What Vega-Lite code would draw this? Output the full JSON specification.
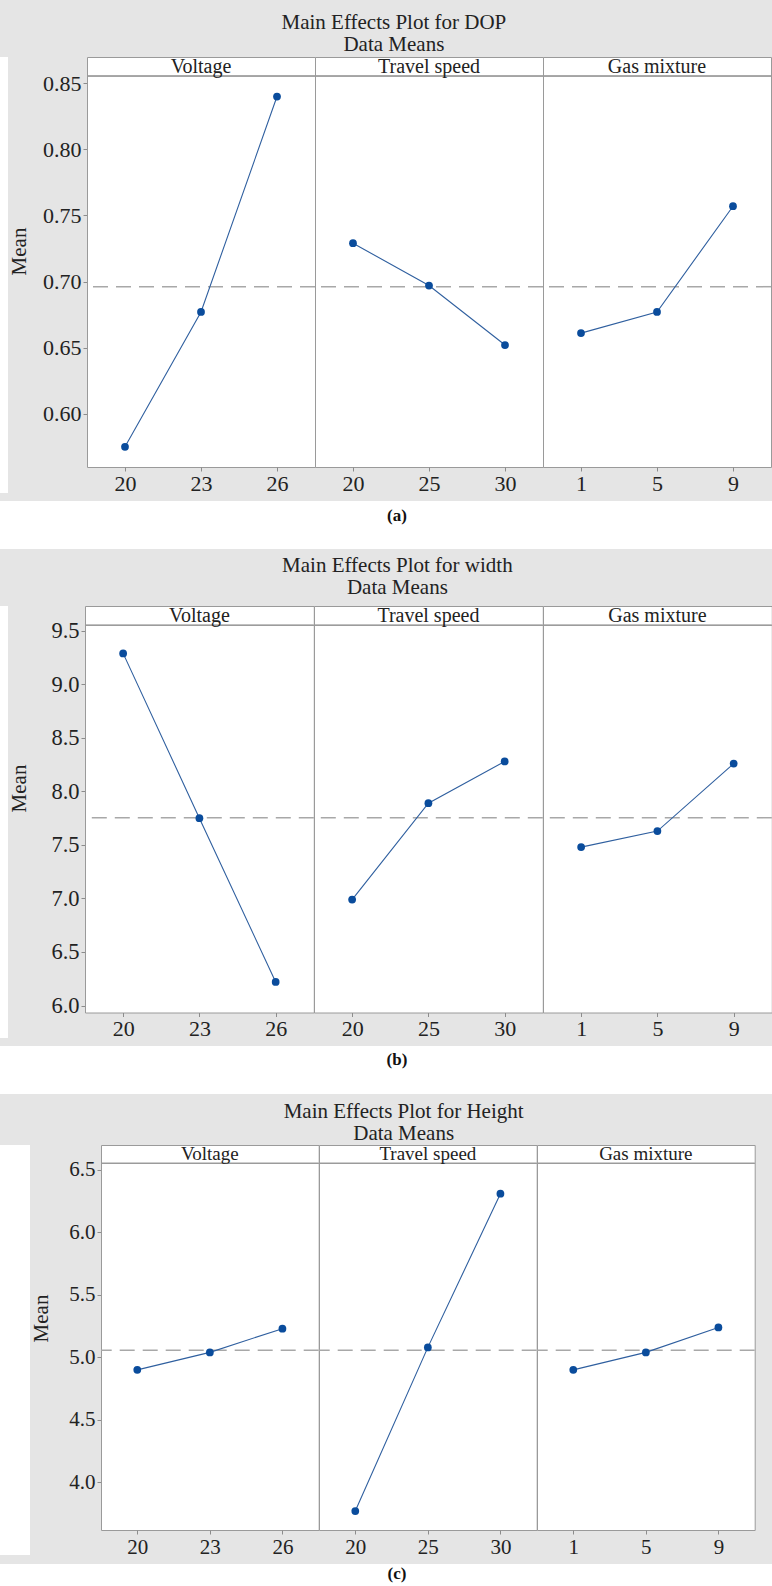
{
  "$schema": "https://vega.github.io/schema/vega-lite/v6.json",
  "padding": {"top": 12, "left": 0, "right": 0, "bottom": 0},
  "background": "#e5e5e5",
  "datasets": {
    "dop": [
      {"factor": "Voltage", "level": 20, "mean": 0.575},
      {"factor": "Voltage", "level": 23, "mean": 0.677},
      {"factor": "Voltage", "level": 26, "mean": 0.840},
      {"factor": "Travel speed", "level": 20, "mean": 0.729},
      {"factor": "Travel speed", "level": 25, "mean": 0.697},
      {"factor": "Travel speed", "level": 30, "mean": 0.652},
      {"factor": "Gas mixture", "level": 1, "mean": 0.661},
      {"factor": "Gas mixture", "level": 5, "mean": 0.677},
      {"factor": "Gas mixture", "level": 9, "mean": 0.757}
    ],
    "width": [
      {"factor": "Voltage", "level": 20, "mean": 9.29},
      {"factor": "Voltage", "level": 23, "mean": 7.75},
      {"factor": "Voltage", "level": 26, "mean": 6.22},
      {"factor": "Travel speed", "level": 20, "mean": 6.99},
      {"factor": "Travel speed", "level": 25, "mean": 7.89},
      {"factor": "Travel speed", "level": 30, "mean": 8.28},
      {"factor": "Gas mixture", "level": 1, "mean": 7.48},
      {"factor": "Gas mixture", "level": 5, "mean": 7.63},
      {"factor": "Gas mixture", "level": 9, "mean": 8.26}
    ],
    "height": [
      {"factor": "Voltage", "level": 20, "mean": 4.90},
      {"factor": "Voltage", "level": 23, "mean": 5.04},
      {"factor": "Voltage", "level": 26, "mean": 5.23},
      {"factor": "Travel speed", "level": 20, "mean": 3.77},
      {"factor": "Travel speed", "level": 25, "mean": 5.08},
      {"factor": "Travel speed", "level": 30, "mean": 6.31},
      {"factor": "Gas mixture", "level": 1, "mean": 4.90},
      {"factor": "Gas mixture", "level": 5, "mean": 5.04},
      {"factor": "Gas mixture", "level": 9, "mean": 5.24}
    ]
  },
  "spacing": 6,
  "vconcat": [
    {
      "spacing": 0,
      "hconcat": [
        {"width": 8, "height": 436, "data": {"values": []}, "mark": "text", "encoding": {}, "view": {"fill": "white", "stroke": null}},
        {
          "data": {"name": "dop"},
          "transform": [{"joinaggregate": [{"op": "mean", "field": "mean", "as": "grand"}]}],
          "title": {"text": ["Main Effects Plot for DOP", "Data Means"], "anchor": "middle", "frame": "bounds", "dx": 3.5, "offset": 1},
          "facet": {"column": {"field": "factor", "type": "nominal", "sort": ["Voltage", "Travel speed", "Gas mixture"], "header": null}},
          "spacing": 0,
          "bounds": "flush",
          "resolve": {"scale": {"x": "independent"}, "axis": {"x": "independent"}},
          "spec": {
            "width": 228,
            "height": 410,
            "layer": [
              {
                "mark": {"type": "rule", "color": "#9a9a9a", "strokeWidth": 1},
                "encoding": {"y": {"datum": 0.8555, "type": "quantitative", "title": "Mean", "scale": {"domain": [0.5597, 0.8699], "nice": false, "zero": false}}}
              },
              {
                "transform": [{"aggregate": [{"op": "count", "as": "n"}], "groupby": ["factor"]}],
                "mark": {"type": "text", "font": "Liberation Serif", "fontSize": 20, "color": "#222222"},
                "encoding": {
                  "y": {"datum": 0.8627, "type": "quantitative", "title": "Mean", "scale": {"domain": [0.5597, 0.8699], "nice": false, "zero": false}},
                  "text": {"field": "factor", "type": "nominal"}
                }
              },
              {
                "mark": {"type": "rule", "color": "#a8a8a8", "strokeWidth": 1.5, "strokeDash": [15, 8]},
                "encoding": {"y": {"aggregate": "mean", "field": "grand", "type": "quantitative", "title": "Mean", "scale": {"domain": [0.5597, 0.8699], "nice": false, "zero": false}}}
              },
              {
                "mark": {"type": "line", "color": "#2f5f9f", "strokeWidth": 1.1},
                "encoding": {
                  "x": {"field": "level", "type": "ordinal", "scale": {"type": "point", "padding": 0.5}, "axis": {"title": null, "labelAngle": 0}},
                  "y": {"field": "mean", "type": "quantitative", "title": "Mean", "scale": {"domain": [0.5597, 0.8699], "nice": false, "zero": false},
                        "axis": {"values": [0.6, 0.65, 0.7, 0.75, 0.8, 0.85], "format": ".2f", "labelFontSize": 22, "titlePadding": 13, "titleY": 194}}
                }
              },
              {
                "mark": {"type": "point", "filled": true, "opacity": 1, "color": "#0a4c9c", "size": 60},
                "encoding": {
                  "x": {"field": "level", "type": "ordinal", "scale": {"type": "point", "padding": 0.5}, "axis": {"title": null, "labelAngle": 0}},
                  "y": {"field": "mean", "type": "quantitative", "title": "Mean", "scale": {"domain": [0.5597, 0.8699], "nice": false, "zero": false}}
                }
              }
            ]
          }
        }
      ]
    },
    {
      "width": 772, "height": 48,
      "data": {"values": [{"tag": "(a)"}]},
      "mark": {"type": "text", "font": "Liberation Serif", "fontWeight": "bold", "fontSize": 17, "color": "#111111", "dx": 11, "dy": -9},
      "encoding": {"text": {"field": "tag", "type": "nominal"}},
      "view": {"fill": "white", "stroke": null}
    },
    {
      "spacing": 0,
      "hconcat": [
        {"width": 8, "height": 432, "data": {"values": []}, "mark": "text", "encoding": {}, "view": {"fill": "white", "stroke": null}},
        {
          "data": {"name": "width"},
          "transform": [{"joinaggregate": [{"op": "mean", "field": "mean", "as": "grand"}]}],
          "title": {"text": ["Main Effects Plot for width", "Data Means"], "anchor": "middle", "frame": "bounds", "dx": 6.6, "offset": 7},
          "facet": {"column": {"field": "factor", "type": "nominal", "sort": ["Voltage", "Travel speed", "Gas mixture"], "header": null}},
          "spacing": 0,
          "bounds": "flush",
          "resolve": {"scale": {"x": "independent"}, "axis": {"x": "independent"}},
          "spec": {
            "width": 228.8,
            "height": 406.5,
            "layer": [
              {
                "mark": {"type": "rule", "color": "#9a9a9a", "strokeWidth": 1},
                "encoding": {"y": {"datum": 9.553, "type": "quantitative", "title": "Mean", "scale": {"domain": [5.9346, 9.7327], "nice": false, "zero": false}}}
              },
              {
                "transform": [{"aggregate": [{"op": "count", "as": "n"}], "groupby": ["factor"]}],
                "mark": {"type": "text", "font": "Liberation Serif", "fontSize": 20, "color": "#222222"},
                "encoding": {
                  "y": {"datum": 9.643, "type": "quantitative", "title": "Mean", "scale": {"domain": [5.9346, 9.7327], "nice": false, "zero": false}},
                  "text": {"field": "factor", "type": "nominal"}
                }
              },
              {
                "mark": {"type": "rule", "color": "#a8a8a8", "strokeWidth": 1.5, "strokeDash": [15, 8]},
                "encoding": {"y": {"aggregate": "mean", "field": "grand", "type": "quantitative", "title": "Mean", "scale": {"domain": [5.9346, 9.7327], "nice": false, "zero": false}}}
              },
              {
                "mark": {"type": "line", "color": "#2f5f9f", "strokeWidth": 1.1},
                "encoding": {
                  "x": {"field": "level", "type": "ordinal", "scale": {"type": "point", "padding": 0.5}, "axis": {"title": null, "labelAngle": 0}},
                  "y": {"field": "mean", "type": "quantitative", "title": "Mean", "scale": {"domain": [5.9346, 9.7327], "nice": false, "zero": false},
                        "axis": {"values": [6.0, 6.5, 7.0, 7.5, 8.0, 8.5, 9.0, 9.5], "format": ".1f", "labelFontSize": 22.5, "titlePadding": 21.4, "titleY": 182}}
                }
              },
              {
                "mark": {"type": "point", "filled": true, "opacity": 1, "color": "#0a4c9c", "size": 60},
                "encoding": {
                  "x": {"field": "level", "type": "ordinal", "scale": {"type": "point", "padding": 0.5}, "axis": {"title": null, "labelAngle": 0}},
                  "y": {"field": "mean", "type": "quantitative", "title": "Mean", "scale": {"domain": [5.9346, 9.7327], "nice": false, "zero": false}}
                }
              }
            ]
          }
        }
      ]
    },
    {
      "width": 772, "height": 48,
      "data": {"values": [{"tag": "(b)"}]},
      "mark": {"type": "text", "font": "Liberation Serif", "fontWeight": "bold", "fontSize": 17, "color": "#111111", "dx": 11, "dy": -10},
      "encoding": {"text": {"field": "tag", "type": "nominal"}},
      "view": {"fill": "white", "stroke": null}
    },
    {
      "spacing": 0,
      "hconcat": [
        {"width": 30, "height": 410, "data": {"values": []}, "mark": "text", "encoding": {}, "view": {"fill": "white", "stroke": null}},
        {
          "data": {"name": "height"},
          "transform": [{"joinaggregate": [{"op": "mean", "field": "mean", "as": "grand"}]}],
          "title": {"text": ["Main Effects Plot for Height", "Data Means"], "anchor": "middle", "frame": "bounds", "dx": 10.5, "offset": 1},
          "facet": {"column": {"field": "factor", "type": "nominal", "sort": ["Voltage", "Travel speed", "Gas mixture"], "header": null}},
          "spacing": 0,
          "bounds": "flush",
          "resolve": {"scale": {"x": "independent"}, "axis": {"x": "independent"}},
          "spec": {
            "width": 217.7,
            "height": 385,
            "layer": [
              {
                "mark": {"type": "rule", "color": "#9a9a9a", "strokeWidth": 1},
                "encoding": {"y": {"datum": 6.5536, "type": "quantitative", "title": "Mean", "scale": {"domain": [3.6182, 6.7001], "nice": false, "zero": false}}}
              },
              {
                "transform": [{"aggregate": [{"op": "count", "as": "n"}], "groupby": ["factor"]}],
                "mark": {"type": "text", "font": "Liberation Serif", "fontSize": 19, "color": "#222222"},
                "encoding": {
                  "y": {"datum": 6.6265, "type": "quantitative", "title": "Mean", "scale": {"domain": [3.6182, 6.7001], "nice": false, "zero": false}},
                  "text": {"field": "factor", "type": "nominal"}
                }
              },
              {
                "mark": {"type": "rule", "color": "#a8a8a8", "strokeWidth": 1.5, "strokeDash": [15, 8]},
                "encoding": {"y": {"aggregate": "mean", "field": "grand", "type": "quantitative", "title": "Mean", "scale": {"domain": [3.6182, 6.7001], "nice": false, "zero": false}}}
              },
              {
                "mark": {"type": "line", "color": "#2f5f9f", "strokeWidth": 1.1},
                "encoding": {
                  "x": {"field": "level", "type": "ordinal", "scale": {"type": "point", "padding": 0.5}, "axis": {"title": null, "labelAngle": 0, "labelFontSize": 21}},
                  "y": {"field": "mean", "type": "quantitative", "title": "Mean", "scale": {"domain": [3.6182, 6.7001], "nice": false, "zero": false},
                        "axis": {"values": [4.0, 4.5, 5.0, 5.5, 6.0, 6.5], "format": ".1f", "labelFontSize": 21, "titlePadding": 17.4, "titleY": 173}}
                }
              },
              {
                "mark": {"type": "point", "filled": true, "opacity": 1, "color": "#0a4c9c", "size": 60},
                "encoding": {
                  "x": {"field": "level", "type": "ordinal", "scale": {"type": "point", "padding": 0.5}, "axis": {"title": null, "labelAngle": 0, "labelFontSize": 21}},
                  "y": {"field": "mean", "type": "quantitative", "title": "Mean", "scale": {"domain": [3.6182, 6.7001], "nice": false, "zero": false}}
                }
              }
            ]
          }
        }
      ]
    },
    {
      "width": 772, "height": 19,
      "data": {"values": [{"tag": "(c)"}]},
      "mark": {"type": "text", "font": "Liberation Serif", "fontWeight": "bold", "fontSize": 17, "color": "#111111", "dx": 11, "dy": 0},
      "encoding": {"text": {"field": "tag", "type": "nominal"}},
      "view": {"fill": "white", "stroke": null}
    }
  ],
  "config": {
    "view": {"fill": "white", "stroke": "#9a9a9a", "strokeWidth": 1},
    "title": {"font": "Liberation Serif", "fontSize": 21, "fontWeight": "normal", "color": "#222222", "lineHeight": 22},
    "axis": {
      "labelFont": "Liberation Serif", "labelFontSize": 22, "labelColor": "#222222", "labelPadding": 2,
      "titleFont": "Liberation Serif", "titleFontSize": 21, "titleFontWeight": "normal", "titleColor": "#222222",
      "tickColor": "#8c8c8c", "tickSize": 4, "domain": false, "grid": false
    }
  }
}
